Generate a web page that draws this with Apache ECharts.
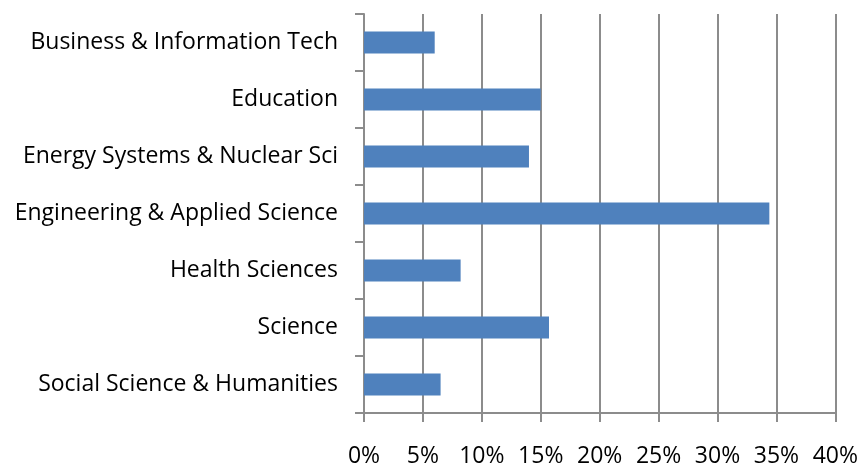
<!DOCTYPE html>
<html lang="en">
  <head>
    <meta charset="UTF-8" />
    <script src="https://cdn.jsdelivr.net/npm/echarts@6/dist/echarts.min.js"></script>
    <title>Faculty share</title>
    <style>
      html, body { margin: 0; padding: 0; background: #fff; }
    </style>
  </head>
  <body>
    <div id="container" style="width: 861px; height: 468px;"></div>

    <script>
      const faculties = [
        "Business & Information Tech",
        "Education",
        "Energy Systems & Nuclear Sci",
        "Engineering & Applied Science",
        "Health Sciences",
        "Science",
        "Social Science & Humanities",
      ];
      const shares = [6.0, 15.0, 14.0, 34.4, 8.2, 15.7, 6.5];

      const chart = echarts.init(document.getElementById("container"));
      const gray = "#8c8c8c";

      chart.setOption({
        animation: false,
        grid: { top: 14, right: 24, bottom: 53, left: 364 },
        xAxis: {
          type: "value",
          min: 0,
          max: 40,
          interval: 5,
          axisLine: { show: true, lineStyle: { color: gray, width: 2 } },
          axisTick: { show: true, length: 9, lineStyle: { color: gray, width: 2 } },
          splitLine: { show: true, lineStyle: { color: gray, width: 2 } },
          axisLabel: {
            margin: 32,
            color: "#000",
            fontSize: 23,
            fontFamily: "Open Sans",
            formatter: (v) => v + "%",
          },
        },
        yAxis: {
          type: "category",
          data: faculties,
          inverse: true,
          axisLine: { show: true, lineStyle: { color: gray, width: 2 } },
          axisTick: { show: true, length: 9, lineStyle: { color: gray, width: 2 } },
          axisLabel: {
            margin: 26,
            color: "#000",
            fontSize: 23,
            fontFamily: "Open Sans",
          },
        },
        series: [
          {
            type: "bar",
            data: shares,
            barWidth: 22,
            itemStyle: { color: "#4F81BD" },
          },
        ],
      });
    </script>
  </body>
</html>
